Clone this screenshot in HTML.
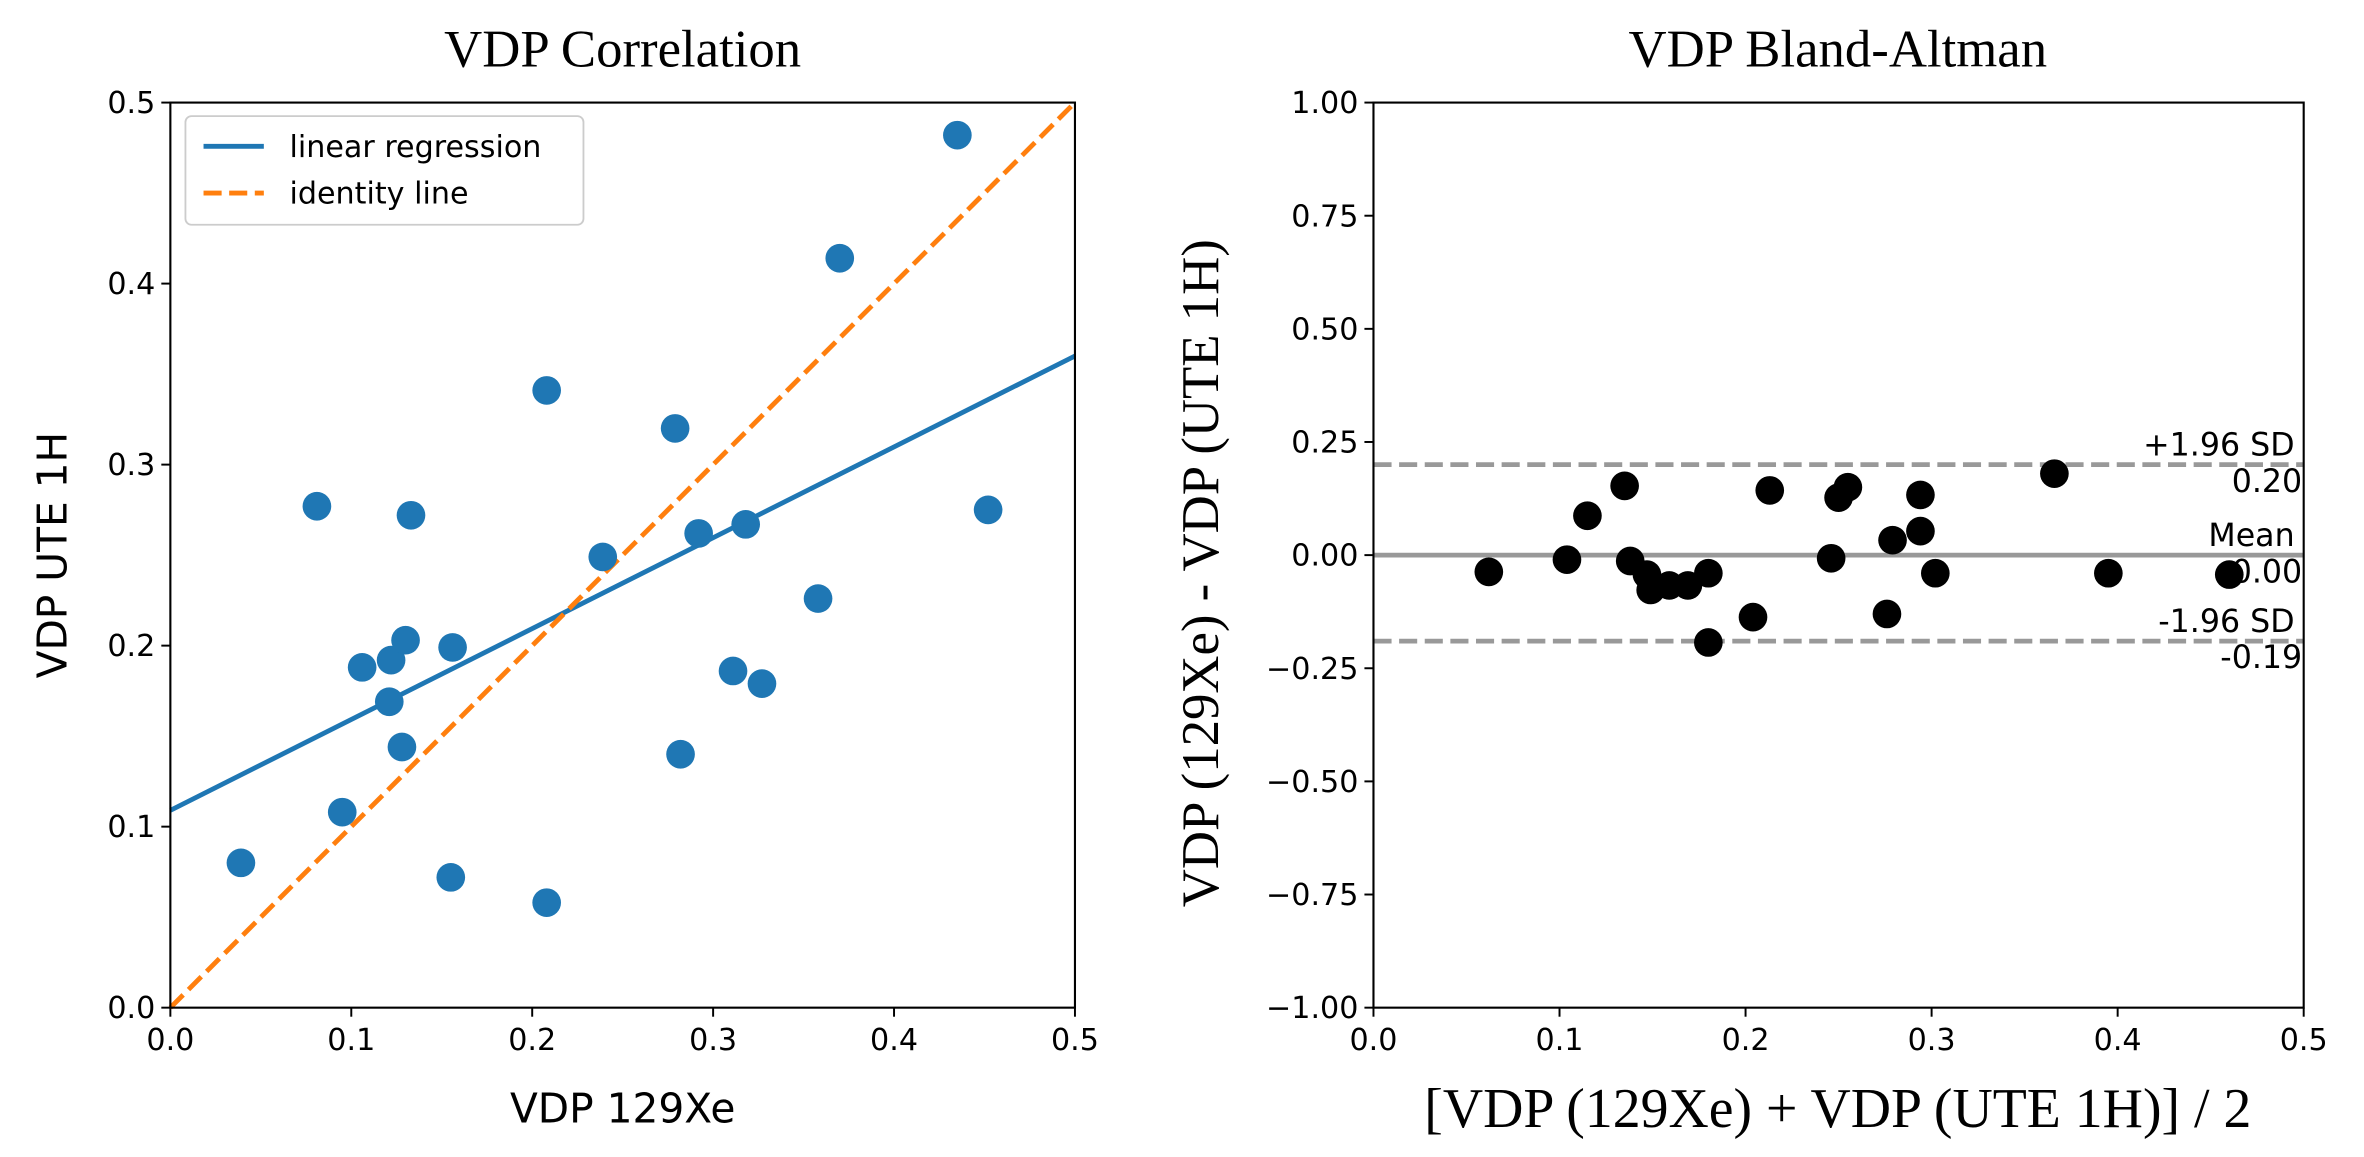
<!DOCTYPE html>
<html><head><meta charset="utf-8">
<style>
html,body{margin:0;padding:0;background:#fff;}
svg{display:block;}
.sans{font-family:"DejaVu Sans","Liberation Sans",sans-serif;}
.serif{font-family:"Liberation Serif",serif;}
</style></head>
<body>
<svg id="c" width="2364" height="1157" viewBox="0 0 1568 767" preserveAspectRatio="none" xmlns="http://www.w3.org/2000/svg"></svg>
<script>
const corrX=[0.435,0.37,0.208,0.279,0.081,0.133,0.452,0.239,0.292,0.318,0.358,0.106,0.122,0.13,0.156,0.121,0.311,0.327,0.128,0.282,0.095,0.039,0.155,0.208];
const corrY=[0.482,0.414,0.341,0.32,0.277,0.272,0.275,0.249,0.262,0.267,0.226,0.188,0.192,0.203,0.199,0.169,0.186,0.179,0.144,0.14,0.108,0.08,0.072,0.058];
const regLine=[0.109,0.502];
const corrTicks=[0,0.1,0.2,0.3,0.4,0.5];
const corrTickLabels=["0.0","0.1","0.2","0.3","0.4","0.5"];
const baMean=[0.062,0.104,0.115,0.135,0.138,0.147,0.149,0.159,0.169,0.18,0.18,0.204,0.213,0.246,0.25,0.255,0.276,0.279,0.294,0.294,0.302,0.366,0.395,0.46];
const baDiff=[-0.037,-0.01,0.087,0.153,-0.013,-0.043,-0.077,-0.067,-0.067,-0.04,-0.193,-0.137,0.143,-0.007,0.127,0.15,-0.13,0.033,0.053,0.133,-0.04,0.18,-0.04,-0.043];
const baLines=[0.20,0.00,-0.19];
const baYTicks=[1,0.75,0.5,0.25,0,-0.25,-0.5,-0.75,-1];
const baYTickLabels=["1.00","0.75","0.50","0.25","0.00","\u22120.25","\u22120.50","\u22120.75","\u22121.00"];

const svg=document.getElementById('c');
const NS='http://www.w3.org/2000/svg';
function mk(tag,attrs,parent){const e=document.createElementNS(NS,tag);for(const k in attrs)e.setAttribute(k,attrs[k]);(parent||svg).appendChild(e);return e;}
function txt(s,attrs){const e=mk('text',attrs);e.textContent=s;return e;}

const L={x0:113,x1:713,y0:668,y1:68};
const lx=v=>L.x0+(v-0)/0.5*(L.x1-L.x0);
const ly=v=>L.y0-(v-0)/0.5*(L.y0-L.y1);
let r=mk('line',{x1:lx(0),y1:ly(regLine[0]),x2:lx(0.5),y2:ly(regLine[0]+regLine[1]*0.5),stroke:'#1f77b4','stroke-width':3.2});

let id=mk('line',{x1:lx(0),y1:ly(0),x2:lx(0.5),y2:ly(0.5),stroke:'#ff7f0e','stroke-width':3.2,'stroke-dasharray':'12,5'});

corrX.forEach((x,i)=>{const c=mk('circle',{cx:lx(x),cy:ly(corrY[i]),r:9.5,fill:'#1f77b4'});
});
let fr=mk('rect',{x:L.x0,y:L.y1,width:L.x1-L.x0,height:L.y0-L.y1,fill:'none',stroke:'#000','stroke-width':1.4});

corrTicks.forEach((t,i)=>{
 mk('line',{x1:lx(t),y1:L.y0,x2:lx(t),y2:L.y0+6,stroke:'#000','stroke-width':1.3});
 const a=txt(corrTickLabels[i],{x:lx(t),y:L.y0+28,'text-anchor':'middle','font-size':20,class:'sans'});
 
 mk('line',{x1:L.x0-6,y1:ly(t),x2:L.x0,y2:ly(t),stroke:'#000','stroke-width':1.3});
 const b=txt(corrTickLabels[i],{x:L.x0-10,y:ly(t)+7,'text-anchor':'end','font-size':20,class:'sans'});
 
});
let t1=txt('VDP Correlation',{x:413,y:44,'text-anchor':'middle','font-size':35,class:'serif'});

let xl=txt('VDP 129Xe',{x:413,y:744,'text-anchor':'middle','font-size':27,class:'sans'});

let yl=txt('VDP UTE 1H',{x:0,y:0,'text-anchor':'middle','font-size':27,class:'sans',transform:'translate(44,368) rotate(-90)'});

let lg=mk('rect',{x:123,y:77,width:264,height:72,rx:4,fill:'#fff',stroke:'#ccc','stroke-width':1.2});

mk('line',{x1:135,y1:97,x2:175,y2:97,stroke:'#1f77b4','stroke-width':3.2});
let le1=txt('linear regression',{x:192,y:104,'font-size':20,class:'sans'});

mk('line',{x1:135,y1:128,x2:175,y2:128,stroke:'#ff7f0e','stroke-width':3.2,'stroke-dasharray':'12,5'});
let le2=txt('identity line',{x:192,y:135,'font-size':20,class:'sans'});


const R={x0:911,x1:1528,y0:668,y1:68};
const rx=v=>R.x0+v/0.5*(R.x1-R.x0);
const ry=v=>(R.y0+R.y1)/2-v*(R.y0-R.y1)/2;
baLines.forEach((v,i)=>{
 const l=mk('line',{x1:R.x0,y1:ry(v),x2:R.x1,y2:ry(v),stroke:'#999','stroke-width':3.2});
 if(i!==1)l.setAttribute('stroke-dasharray','12,5');
 
});
const labs=[['+1.96 SD',baLines[0].toFixed(2)],['Mean',baLines[1].toFixed(2)],['-1.96 SD',baLines[2].toFixed(2)]];
labs.forEach((p,i)=>{
 const v=baLines[i];
 const a=txt(p[0],{x:R.x1-6,y:ry(v)-6,'text-anchor':'end','font-size':21,class:'sans'});
 
 const b=txt(p[1],{x:R.x1-1,y:ry(v)+18,'text-anchor':'end','font-size':21,class:'sans'});
 
});
baMean.forEach((x,i)=>{const c=mk('circle',{cx:rx(x),cy:ry(baDiff[i]),r:9.5,fill:'#000'});
});
let fr2=mk('rect',{x:R.x0,y:R.y1,width:R.x1-R.x0,height:R.y0-R.y1,fill:'none',stroke:'#000','stroke-width':1.4});

corrTicks.forEach((t,i)=>{
 mk('line',{x1:rx(t),y1:R.y0,x2:rx(t),y2:R.y0+6,stroke:'#000','stroke-width':1.3});
 const a=txt(corrTickLabels[i],{x:rx(t),y:R.y0+28,'text-anchor':'middle','font-size':20,class:'sans'});
 
});
baYTicks.forEach((t,i)=>{
 mk('line',{x1:R.x0-6,y1:ry(t),x2:R.x0,y2:ry(t),stroke:'#000','stroke-width':1.3});
 const b=txt(baYTickLabels[i],{x:R.x0-10,y:ry(t)+7,'text-anchor':'end','font-size':20,class:'sans'});
 
});
let t2=txt('VDP Bland-Altman',{x:1219,y:44,'text-anchor':'middle','font-size':35,class:'serif'});

let xl2=txt('[VDP (129Xe) + VDP (UTE 1H)] / 2',{x:1219,y:747,'text-anchor':'middle','font-size':37,class:'serif'});

let yl2=txt('VDP (129Xe) - VDP (UTE 1H)',{x:0,y:0,'text-anchor':'middle','font-size':35,class:'serif',transform:'translate(808,380) rotate(-90)'});

</script>
</body></html>
